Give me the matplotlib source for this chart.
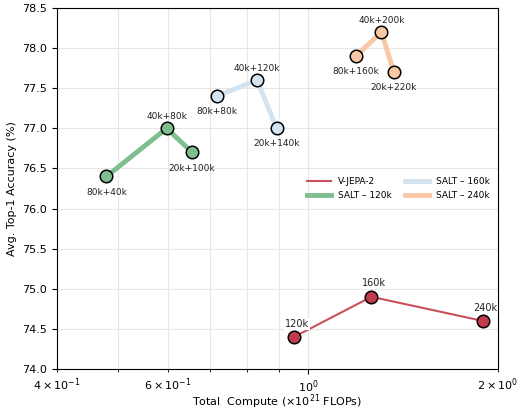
import matplotlib
matplotlib.use("Agg")
import matplotlib.pyplot as plt

# Data
vjepa_x = [0.95, 1.26, 1.89]
vjepa_y = [74.4, 74.9, 74.6]
vjepa_labels = ["120k", "160k", "240k"]

salt120_x = [0.479, 0.597, 0.655]
salt120_y = [76.4, 77.0, 76.7]
salt120_labels = ["80k+40k", "40k+80k", "20k+100k"]

salt160_x = [0.716, 0.830, 0.892]
salt160_y = [77.4, 77.6, 77.0]
salt160_labels = ["80k+80k", "40k+120k", "20k+140k"]

salt240_x = [1.19, 1.307, 1.367]
salt240_y = [77.9, 78.2, 77.7]
salt240_labels = ["80k+160k", "40k+200k", "20k+220k"]

# label placement: +1 above, -1 below
salt_pos = [-1, 1, -1]

c_vjepa = "#c23b4b"
c_120 = "#7fbf8f"
c_160 = "#d3e3ef"
c_240 = "#f9c7a6"

fig = plt.figure(figsize=(5.21, 4.09), dpi=100)
ax = fig.add_axes([0.1094, 0.0978, 0.8466, 0.8826])

ax.set_xscale("log")
ax.set_xlim(0.4, 2.0)
ax.set_ylim(74.0, 78.5)

ax.grid(True, which="both", axis="x", color="#e6e6e6", lw=0.8)
ax.grid(True, which="major", axis="y", color="#e6e6e6", lw=0.8)
ax.set_axisbelow(True)

mk = dict(marker="o", markersize=9, markeredgecolor="black", markeredgewidth=1.1)

ax.plot(vjepa_x, vjepa_y, color="#c9505c", lw=1.5, label="V-JEPA-2", zorder=2)
ax.plot(salt120_x, salt120_y, color=c_120, lw=3.5, label="SALT – 120k", zorder=2)
ax.plot(salt160_x, salt160_y, color=c_160, lw=3.5, label="SALT – 160k", zorder=2)
ax.plot(salt240_x, salt240_y, color=c_240, lw=3.5, label="SALT – 240k", zorder=2)

ax.plot(vjepa_x, vjepa_y, ls="none", markerfacecolor=c_vjepa, zorder=4, **mk)
ax.plot(salt120_x, salt120_y, ls="none", markerfacecolor=c_120, zorder=4, **mk)
ax.plot(salt160_x, salt160_y, ls="none", markerfacecolor=c_160, zorder=4, **mk)
ax.plot(salt240_x, salt240_y, ls="none", markerfacecolor=c_240, zorder=4, **mk)

for x, y, t in zip(vjepa_x, vjepa_y, vjepa_labels):
    ax.annotate(t, (x, y), xytext=(2, 6), textcoords="offset points",
                ha="center", va="bottom", fontsize=7, color="#222222",
                bbox=dict(boxstyle="square,pad=0.1", fc="white", ec="none"),
                zorder=3)

for xs, ys, labs in [(salt120_x, salt120_y, salt120_labels),
                     (salt160_x, salt160_y, salt160_labels),
                     (salt240_x, salt240_y, salt240_labels)]:
    for x, y, t, p in zip(xs, ys, labs, salt_pos):
        if p > 0:
            ax.annotate(t, (x, y), xytext=(0, 5), textcoords="offset points",
                        ha="center", va="bottom", fontsize=6.5, color="#222222", zorder=5)
        else:
            ax.annotate(t, (x, y), xytext=(0, -8), textcoords="offset points",
                        ha="center", va="top", fontsize=6.5, color="#222222", zorder=5)

ax.set_xlabel("Total  Compute ($\\times 10^{21}$ FLOPs)", fontsize=8, labelpad=1)
ax.xaxis.set_label_coords(0.5, -0.065)
ax.set_ylabel("Avg. Top-1 Accuracy (%)", fontsize=8)
ax.tick_params(axis="both", which="both", labelsize=8)

handles, labels = ax.get_legend_handles_labels()
ax.legend(handles, labels, loc="center right", ncol=2, frameon=False,
          fontsize=6.5, handlelength=2.6, columnspacing=1.5)

fig.savefig("out.png", dpi=100)
